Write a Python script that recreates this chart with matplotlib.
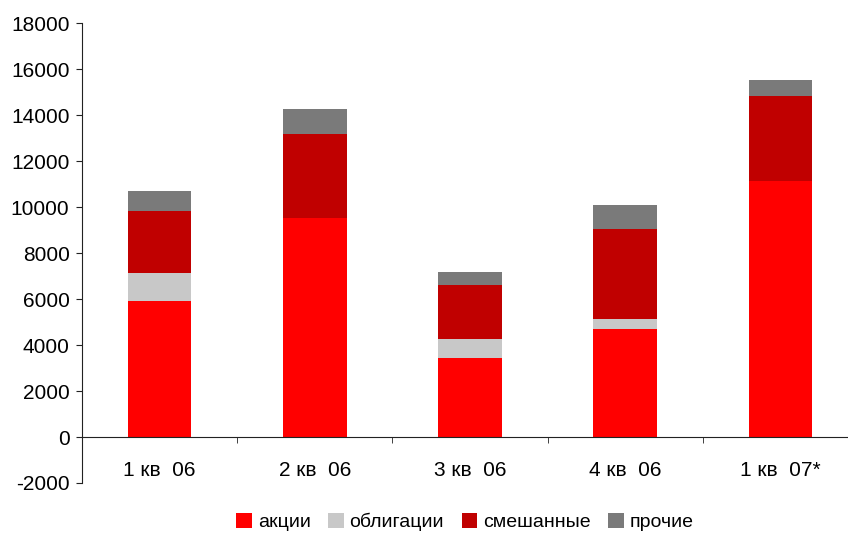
import numpy as np
import matplotlib
matplotlib.use('Agg')
from matplotlib import pyplot as plt

plt.rcParams['font.family'] = ['Liberation Sans', 'DejaVu Sans']
plt.rcParams['axes.unicode_minus'] = False

quarters = ['1 кв  06', '2 кв  06', '3 кв  06', '4 кв  06', '1 кв  07*']
akcii = [5900, 9550, 3430, 4690, 11150]
obligacii = [1250, 0, 820, 430, 0]
smeshannye = [2700, 3650, 2350, 3950, 3690]
prochie = [850, 1050, 600, 1040, 690]

names = ['акции', 'облигации', 'смешанные', 'прочие']
colors = ['#ff0000', '#c8c8c8', '#c00000', '#7a7a7a']

fig = plt.figure(figsize=(8.48, 5.33), dpi=100)
ax = fig.add_axes([82/848, 1-483/533, 776/848, (483-23.3)/533])

x = np.arange(len(quarters))
bottom = np.zeros(len(quarters))
for vals, name, c in zip([akcii, obligacii, smeshannye, prochie], names, colors):
    ax.bar(x, vals, 0.41, bottom=bottom, color=c, label=name, linewidth=0)
    bottom += np.array(vals)

ax.set_xlim(-0.5, 4.5)
ax.set_ylim(-2000, 18000)
ax.set_yticks(range(-2000, 18001, 2000))

ax.spines['top'].set_visible(False)
ax.spines['right'].set_visible(False)
ax.spines['bottom'].set_position(('data', 0))

ax.set_xticks(x)
ax.set_xticklabels(quarters, fontsize=15)
ax.set_xticks(np.arange(0.5, 4.5, 1), minor=True)
ax.tick_params(axis='x', which='major', length=0, pad=17)
ax.tick_params(axis='x', which='minor', length=4, direction='out', color='#222222')
ax.tick_params(axis='y', length=4, labelsize=15, pad=5, color='#222222')
for s in ax.spines.values():
    s.set_color('#222222')

fig.legend(loc='center', bbox_to_anchor=(465/848, 1-522/533), ncol=4, frameon=False,
           fontsize=14, handlelength=0.8, handleheight=0.8, handletextpad=0.3, columnspacing=0.9)

plt.savefig('out.png', dpi=100)
